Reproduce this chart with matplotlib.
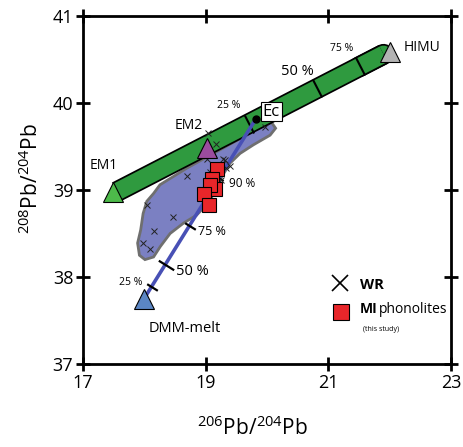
import numpy as np
import matplotlib.pyplot as plt
from matplotlib.patches import Polygon
import matplotlib.patheffects as pe

plt.rcParams['font.family'] = ['Open Sans', 'DejaVu Sans']
plt.rcParams['mathtext.fontset'] = 'custom'
plt.rcParams['mathtext.rm'] = 'Open Sans'
plt.rcParams['mathtext.bf'] = 'Open Sans:bold'

# end-members
em_names = ['EM1', 'EM2', 'HIMU', 'DMM-melt']
em_x = [17.49, 19.02, 22.0, 18.0]
em_y = [38.98, 39.48, 40.59, 37.75]
em_colors = ['#4dba4a', '#9a4c9e', '#b3b3b3', '#5b86c4']

# EM1-HIMU mixing band
band_x = [17.55, 21.90]
band_y = [38.98, 40.56]
band_tick_x = [19.70, 20.81, 21.52]
band_tick_y = [39.76, 40.17, 40.42]

# DMM-melt -> Ec mixing line
ec_x, ec_y = 19.82, 39.82
mix_x = [18.03, 19.82]
mix_y = [37.79, 39.82]
mix_tick_x = [18.12, 18.35, 18.74, 19.22]
mix_tick_y = [37.89, 38.14, 38.59, 39.14]
mix_tick_len = [9, 13, 9, 7]

# whole-rock field outline
field_x = [18.255, 18.69, 19.125, 19.56, 19.94, 20.08, 20.14, 20.05, 19.78, 19.56,
           19.40, 19.26, 19.15, 19.04, 18.85, 18.64, 18.42, 18.26, 18.15, 18.01,
           17.92, 17.89, 17.94, 17.98, 18.04, 18.15]
field_y = [39.06, 39.25, 39.42, 39.59, 39.77, 39.77, 39.71, 39.63, 39.52, 39.42,
           39.31, 39.15, 38.98, 38.85, 38.71, 38.62, 38.50, 38.35, 38.23, 38.20,
           38.25, 38.39, 38.54, 38.73, 38.87, 38.96]

# WR samples
wr_x = [18.05, 18.47, 18.16, 17.97, 18.09, 18.70, 19.97, 19.04, 19.17, 19.02,
        19.29, 19.26, 19.39, 19.33, 19.07, 19.25, 19.32, 19.23]
wr_y = [38.83, 38.69, 38.53, 38.39, 38.32, 39.16, 39.72, 39.65, 39.53, 39.36,
        39.36, 39.29, 39.28, 39.25, 39.21, 39.11, 39.34, 39.21]

# MI phonolites
mi_x = [19.19, 19.10, 19.15, 19.07, 18.98, 19.06]
mi_y = [39.24, 39.13, 39.01, 39.06, 38.95, 38.83]

fig = plt.figure(figsize=(4.63, 4.47), dpi=100)
ax = fig.add_axes([0.1793, 0.1857, 0.7948, 0.7785])
ax.set_xlim(17, 23)
ax.set_ylim(37, 41)
ax.set_xticks([17, 19, 21, 23])
ax.set_yticks([37, 38, 39, 40, 41])
ax.tick_params(direction='inout', length=10, width=2, labelsize=13,
               top=True, right=True, pad=2)
for s in ax.spines.values():
    s.set_linewidth(2)

fig.canvas.draw()

def disp_angle(x0, y0, x1, y1):
    p0 = ax.transData.transform((x0, y0))
    p1 = ax.transData.transform((x1, y1))
    return np.degrees(np.arctan2(p1[1] - p0[1], p1[0] - p0[0]))

# field
ax.add_patch(Polygon(np.column_stack([field_x, field_y]), closed=True,
                     facecolor='#7b80c2', edgecolor='#6f6f6f', lw=2, zorder=1))

# green band: butt end at EM1, rounded end at HIMU
outline = [pe.Stroke(linewidth=15, foreground='black'), pe.Normal()]
ax.plot([band_x[1] - 0.4, band_x[1]], [band_y[1] - 0.145, band_y[1]], color='#2f9a3f',
        lw=12.5, solid_capstyle='round', zorder=2, path_effects=outline)
ax.plot(band_x, band_y, color='#2f9a3f', lw=12.5, solid_capstyle='butt', zorder=2.1,
        path_effects=outline)
a_band = disp_angle(band_x[0], band_y[0], band_x[1], band_y[1])
ax.plot(band_tick_x, band_tick_y, ls='none', marker=(2, 0, a_band), ms=14.5,
        mew=1.5, mec='black', zorder=3)

# mixing line
ax.plot(mix_x, mix_y, color='#4850b5', lw=2.6, zorder=4)
a_mix = disp_angle(mix_x[0], mix_y[0], mix_x[1], mix_y[1])
for tx, ty, tl in zip(mix_tick_x, mix_tick_y, mix_tick_len):
    ax.plot(tx, ty, marker=(2, 0, a_mix), ms=tl, mew=1.6, mec='black', zorder=5)
ax.plot(ec_x, ec_y, 'o', color='black', ms=5, zorder=6)

# WR
ax.plot(wr_x, wr_y, 'x', color='#222222', ms=4, mew=0.7, zorder=5)

# MI
ax.errorbar(mi_x[-1], mi_y[-1], yerr=0.08, color='#333333', lw=0.8, zorder=5)
ax.plot(mi_x, mi_y, 's', color='#e8262a', mec='black', mew=0.8, ms=10, zorder=7)

# end-members
for n, x, y, c in zip(em_names, em_x, em_y, em_colors):
    ax.plot(x, y, '^', color=c, mec='black', mew=0.8, ms=14, zorder=8)

ax.text(17.33, 39.28, 'EM1', fontsize=10, ha='center', va='center')
ax.text(18.73, 39.74, 'EM2', fontsize=10, ha='center', va='center')
ax.text(22.22, 40.64, 'HIMU', fontsize=10, ha='left', va='center')
ax.text(18.66, 37.41, 'DMM-melt', fontsize=10.5, ha='center', va='center')
ax.text(20.07, 39.90, 'Ec', fontsize=12, ha='center', va='center', zorder=9,
        bbox=dict(boxstyle='square,pad=0.1', fc='white', ec='black', lw=0.8))
ax.text(19.38, 39.97, '25 %', fontsize=7.5, ha='center', va='center')
ax.text(20.49, 40.36, '50 %', fontsize=10.5, ha='center', va='center')
ax.text(21.22, 40.63, '75 %', fontsize=7.5, ha='center', va='center')
ax.text(19.59, 39.08, '90 %', fontsize=8.5, ha='center', va='center')
ax.text(19.10, 38.52, '75 %', fontsize=9, ha='center', va='center')
ax.text(18.78, 38.06, '50 %', fontsize=10.5, ha='center', va='center')
ax.text(17.78, 37.94, '25 %', fontsize=7.5, ha='center', va='center')

# legend
ax.plot(0.697, 0.232, 'x', color='black', ms=11, mew=1.2, transform=ax.transAxes)
ax.text(0.752, 0.226, 'WR', fontsize=10.5, fontweight='bold', ha='left', va='center',
        transform=ax.transAxes)
ax.plot(0.700, 0.150, 's', color='#e8262a', mec='black', mew=0.8, ms=11,
        transform=ax.transAxes)
ax.text(0.752, 0.158, 'MI', fontsize=10, fontweight='bold', ha='left', va='center',
        transform=ax.transAxes)
ax.text(0.803, 0.158, 'phonolites', fontsize=10, ha='left', va='center',
        transform=ax.transAxes)
ax.text(0.760, 0.100, '(this study)', fontsize=5, ha='left', va='center',
        transform=ax.transAxes)

ax.set_xlabel(r'$^{206}$Pb/$^{204}$Pb', fontsize=15)
ax.xaxis.set_label_coords(0.46, -0.15)
ax.set_ylabel(r'$^{208}$Pb/$^{204}$Pb', fontsize=15)
ax.yaxis.set_label_coords(-0.11, 0.534)

fig.savefig('out.png', dpi=100)
